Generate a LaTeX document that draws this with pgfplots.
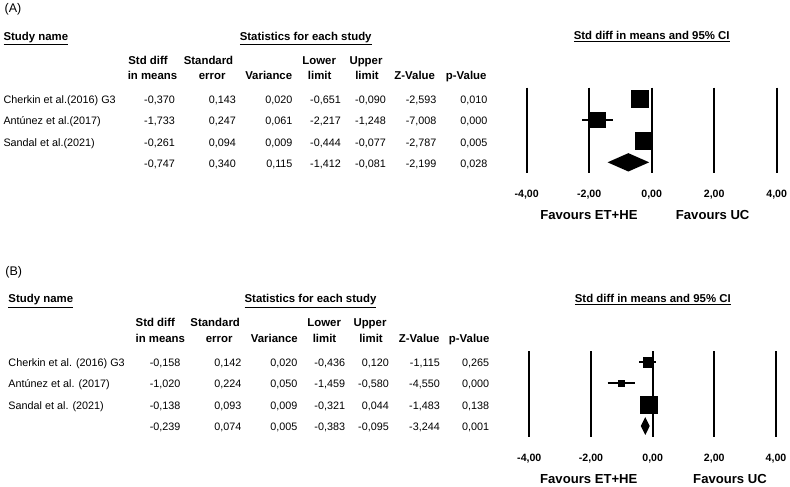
\documentclass[border=0pt]{standalone}
\usepackage{pgfplots}
\pgfplotsset{compat=1.18}
\usepackage{fontspec}
\setmainfont{Liberation Sans}
\begin{document}
\begin{tikzpicture}[x=1pt,y=1pt,font=\fontsize{10.8}{12}\selectfont]
\path[use as bounding box] (0,0) rectangle (790,487);
\tikzset{
  num/.style={anchor=base east,inner sep=0pt},
  lab/.style={anchor=base west,inner sep=0pt},
  pl/.style={anchor=base west,inner sep=0pt,font=\fontsize{12.5}{14}\selectfont},
  hd/.style={anchor=base,inner sep=0pt,font=\fontsize{11.4}{13}\selectfont\bfseries},
  tk/.style={anchor=base,inner sep=0pt,font=\fontsize{10.6}{12}\selectfont\bfseries},
  fav/.style={anchor=base,inner sep=0pt,font=\fontsize{13.1}{15}\selectfont\bfseries},
}
\pgfplotsset{
  forest/.style={scale only axis, height=85.33pt, xmin=-4, xmax=4,
    ymin=0.5, ymax=4.5, y dir=reverse, hide axis, clip=false},
  vline/.style={black, line width=2.3pt},
  zline/.style={black, line width=1.7pt},
  ci/.style={black, line width=1.8pt},
}
% ---------------- Panel A ----------------
\node[pl] at (4.5,474.5) {(A)};
\node[hd,anchor=base west] at (3.3,446.5) {\underline{Study name}};
\node[hd] at (305.7,446.5) {\underline{Statistics for each study}};
\node[hd] at (651.7,447) {\underline{Std diff in means and 95\% CI}};
\node[hd] at (148,422) {Std diff};
\node[hd] at (152.5,407.3) {in means};
\node[hd] at (208.5,422) {Standard};
\node[hd] at (212.2,407.3) {error};
\node[hd] at (268.7,407.3) {Variance};
\node[hd] at (319.2,422) {Lower};
\node[hd] at (319.7,407.3) {limit};
\node[hd] at (366,422) {Upper};
\node[hd] at (367,407.3) {limit};
\node[hd] at (414.7,407.3) {Z-Value};
\node[hd] at (466.2,407.3) {p-Value};
\foreach \y/\n/\a/\b/\c/\d/\e/\f/\g in {
 383.9/{Cherkin et al.(2016) G3}/{-0,370}/{0,143}/{0,020}/{-0,651}/{-0,090}/{-2,593}/{0,010},
 362.9/{Antúnez et al.(2017)}/{-1,733}/{0,247}/{0,061}/{-2,217}/{-1,248}/{-7,008}/{0,000},
 340.9/{Sandal et al.(2021)}/{-0,261}/{0,094}/{0,009}/{-0,444}/{-0,077}/{-2,787}/{0,005},
 319.9/{}/{-0,747}/{0,340}/{0,115}/{-1,412}/{-0,081}/{-2,199}/{0,028}}{
  \node[lab] at (3.3,\y) {\n};
  \node[num] at (175,\y) {\a};
  \node[num] at (236,\y) {\b};
  \node[num] at (292.7,\y) {\c};
  \node[num] at (341,\y) {\d};
  \node[num] at (386,\y) {\e};
  \node[num] at (436.7,\y) {\f};
  \node[num] at (487.7,\y) {\g};
}
\node[tk] at (526.7,289.3) {-4,00};
\node[tk] at (589.2,289.3) {-2,00};
\node[tk] at (651.7,289.3) {0,00};
\node[tk] at (714.2,289.3) {2,00};
\node[tk] at (776.7,289.3) {4,00};
\node[fav] at (589,267.3) {Favours ET+HE};
\node[fav] at (712.7,267.3) {Favours UC};
\begin{axis}[forest, width=250pt, at={(526.7pt,314pt)}, anchor=south west]
\addplot[vline] coordinates {(-4,0.5) (-4,4.5)};
\addplot[vline] coordinates {(-2,0.5) (-2,4.5)};
\addplot[vline] coordinates {(2,0.5) (2,4.5)};
\addplot[vline] coordinates {(4,0.5) (4,4.5)};
\addplot[zline] coordinates {(0,0.5) (0,4.5)};
\addplot[ci] coordinates {(-0.651,1) (-0.090,1)};
\addplot[ci] coordinates {(-2.217,2) (-1.248,2)};
\addplot[ci] coordinates {(-0.444,3) (-0.077,3)};
\addplot[only marks, mark=square*, mark size=8.5pt, mark options={fill=black,draw=none}] coordinates {(-0.370,1)};
\addplot[only marks, mark=square*, mark size=7.8pt, mark options={fill=black,draw=none}] coordinates {(-1.733,2)};
\addplot[only marks, mark=square*, mark size=8.4pt, mark options={fill=black,draw=none}] coordinates {(-0.261,3)};
\addplot[fill=black, draw=none] coordinates {(-1.412,4) (-0.747,3.57) (-0.081,4) (-0.747,4.43)} -- cycle;
\end{axis}
% ---------------- Panel B ----------------
\node[pl] at (5.2,211.3) {(B)};
\node[hd,anchor=base west] at (8.3,184) {\underline{Study name}};
\node[hd] at (310.5,184) {\underline{Statistics for each study}};
\node[hd] at (652.8,184.5) {\underline{Std diff in means and 95\% CI}};
\node[hd] at (155.3,160.3) {Std diff};
\node[hd] at (160.3,144.7) {in means};
\node[hd] at (215.2,160.3) {Standard};
\node[hd] at (219.2,144.7) {error};
\node[hd] at (274.3,144.7) {Variance};
\node[hd] at (324.2,160.3) {Lower};
\node[hd] at (324.5,144.7) {limit};
\node[hd] at (370,160.3) {Upper};
\node[hd] at (371,144.7) {limit};
\node[hd] at (419.2,144.7) {Z-Value};
\node[hd] at (469.2,144.7) {p-Value};
\foreach \y/\n/\a/\b/\c/\d/\e/\f/\g in {
 120.5/{Cherkin et al. (2016) G3}/{-0,158}/{0,142}/{0,020}/{-0,436}/{0,120}/{-1,115}/{0,265},
 99.2/{Antúnez et al. (2017)}/{-1,020}/{0,224}/{0,050}/{-1,459}/{-0,580}/{-4,550}/{0,000},
 77.9/{Sandal et al. (2021)}/{-0,138}/{0,093}/{0,009}/{-0,321}/{0,044}/{-1,483}/{0,138},
 56.5/{}/{-0,239}/{0,074}/{0,005}/{-0,383}/{-0,095}/{-3,244}/{0,001}}{
  \node[lab] at (8.3,\y) {\n};
  \node[num] at (180.7,\y) {\a};
  \node[num] at (241.7,\y) {\b};
  \node[num] at (297.7,\y) {\c};
  \node[num] at (345.3,\y) {\d};
  \node[num] at (389,\y) {\e};
  \node[num] at (440,\y) {\f};
  \node[num] at (489.3,\y) {\g};
}
\node[tk] at (529.3,25) {-4,00};
\node[tk] at (591,25) {-2,00};
\node[tk] at (652.7,25) {0,00};
\node[tk] at (714.3,25) {2,00};
\node[tk] at (776,25) {4,00};
\node[fav] at (588.8,3) {Favours ET+HE};
\node[fav] at (730,3) {Favours UC};
\begin{axis}[forest, width=246.7pt, at={(529.3pt,50.3pt)}, anchor=south west]
\addplot[vline] coordinates {(-4,0.5) (-4,4.5)};
\addplot[vline] coordinates {(-2,0.5) (-2,4.5)};
\addplot[vline] coordinates {(2,0.5) (2,4.5)};
\addplot[vline] coordinates {(4,0.5) (4,4.5)};
\addplot[zline] coordinates {(0,0.5) (0,4.5)};
\addplot[ci] coordinates {(-0.436,1) (0.120,1)};
\addplot[ci] coordinates {(-1.459,2) (-0.580,2)};
\addplot[ci] coordinates {(-0.321,3) (0.044,3)};
\addplot[only marks, mark=square*, mark size=5pt, mark options={fill=black,draw=none}] coordinates {(-0.158,1)};
\addplot[only marks, mark=square*, mark size=3.3pt, mark options={fill=black,draw=none}] coordinates {(-1.020,2)};
\addplot[only marks, mark=square*, mark size=8.5pt, mark options={fill=black,draw=none}] coordinates {(-0.138,3)};
\addplot[fill=black, draw=none] coordinates {(-0.383,4) (-0.239,3.58) (-0.095,4) (-0.239,4.42)} -- cycle;
\end{axis}
\end{tikzpicture}
\end{document}
